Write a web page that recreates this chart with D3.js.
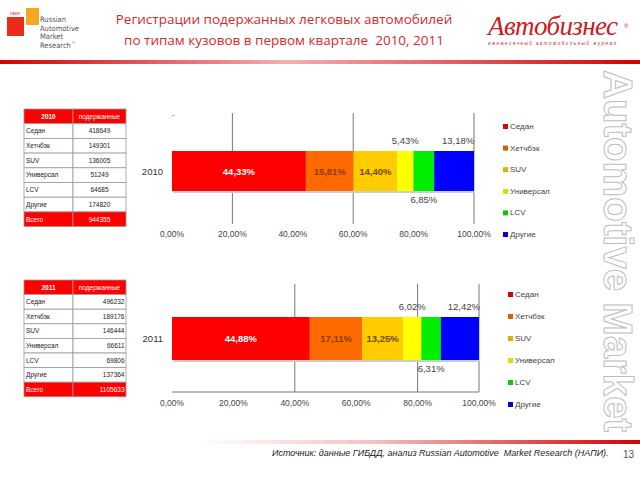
<!DOCTYPE html>
<html>
<head>
<meta charset="utf-8">
<script src="https://cdn.jsdelivr.net/npm/d3@7"></script>
<style>
  body { margin: 0; background: #fff; }
  svg { display: block; font-family: "Liberation Sans", Arial, sans-serif; }
</style>
</head>
<body>
<div id="chart"></div>
<script>
"use strict";

// categories and colours of the body types
var categories = ["Седан", "Хетчбэк", "SUV", "Универсал", "LCV", "Другие"];
var colors = ["#ff0000", "#ff6a00", "#ffcc00", "#ffff00", "#00ee00", "#0000ff"];

// shares in %
var share2010 = [44.33, 15.81, 14.40, 5.43, 6.85, 13.18];
var share2011 = [44.88, 17.11, 13.25, 6.02, 6.31, 12.42];

// units from the small tables
var units2010 = ["418649", "149301", "136005", "51249", "64685", "174820"];
var units2011 = ["496232", "189176", "146444", "66611", "69806", "137364"];
var total2010 = "944355";
var total2011 = "1105633";

var tickValues = [0, 20, 40, 60, 80, 100];
var tickLabels = ["0,00%", "20,00%", "40,00%", "60,00%", "80,00%", "100,00%"];

var w = 640, h = 480;

var svg = d3.select("#chart").append("svg")
  .attr("width", w)
  .attr("height", h);

var defs = svg.append("defs");

//header / footer red rules
var gTop = defs.append("linearGradient").attr("id", "ruleTop");
gTop.append("stop").attr("offset", "0%").attr("stop-color", "#d40000");
gTop.append("stop").attr("offset", "45%").attr("stop-color", "#f2b0b0");
gTop.append("stop").attr("offset", "100%").attr("stop-color", "#d40000");

var gBot = defs.append("linearGradient").attr("id", "ruleBot");
gBot.append("stop").attr("offset", "0%").attr("stop-color", "#ffffff");
gBot.append("stop").attr("offset", "40%").attr("stop-color", "#f4c0c0");
gBot.append("stop").attr("offset", "100%").attr("stop-color", "#d40000");

svg.append("rect").attr("x", 0).attr("y", 60).attr("width", w).attr("height", 4)
  .attr("fill", "url(#ruleTop)");
svg.append("rect").attr("x", 200).attr("y", 440).attr("width", 440).attr("height", 4)
  .attr("fill", "url(#ruleBot)");

//left logo
svg.append("rect").attr("x", 7).attr("y", 17).attr("width", 17).attr("height", 19).attr("fill", "#ee2a1a");
svg.append("rect").attr("x", 26).attr("y", 8).attr("width", 13).attr("height", 17).attr("fill", "#f5a623");
svg.append("text").attr("x", 10).attr("y", 15).attr("font-size", 3.5).attr("fill", "#c33").text("RAMR");
var logoLines = ["Russian", "Automotive", "Market", "Research"];
svg.append("g").selectAll("text").data(logoLines).join("text")
  .attr("x", 40)
  .attr("y", function(d, i) { return 22 + i * 8.5; })
  .attr("font-size", 7.5)
  .attr("fill", "#555")
  .attr("font-family", "'Liberation Sans Narrow', 'DejaVu Sans Condensed', sans-serif")
  .text(function(d) { return d; });
svg.append("text").attr("x", 72).attr("y", 44).attr("font-size", 4).attr("fill", "#555").text("®");

//right logo
svg.append("text")
  .attr("x", 488).attr("y", 35)
  .attr("font-family", "'Liberation Serif', 'DejaVu Serif', serif")
  .attr("font-style", "italic")
  .attr("font-size", 27)
  .attr("fill", "#c8201e")
  .attr("textLength", 130)
  .text("Автобизнес");
svg.append("text").attr("x", 624).attr("y", 28).attr("font-size", 6).attr("fill", "#c8201e").text("®");
svg.append("text")
  .attr("x", 488).attr("y", 45)
  .attr("font-size", 4.5)
  .attr("font-style", "italic")
  .attr("fill", "#c8201e")
  .attr("textLength", 128)
  .text("ежемесячный автомобильный журнал");

//title
svg.append("g").selectAll("text")
  .data(["Регистрации подержанных легковых автомобилей", "по типам кузовов в первом квартале  2010, 2011"])
  .join("text")
  .attr("x", 284)
  .attr("y", function(d, i) { return 24 + i * 21; })
  .attr("text-anchor", "middle")
  .attr("font-family", "'Open Sans', sans-serif")
  .attr("font-size", 13.5)
  .attr("fill", "#d42a2a")
  .style("white-space", "pre")
  .text(function(d) { return d; });

//watermark on the right
svg.append("text")
  .attr("transform", "translate(604,70) rotate(90)")
  .attr("font-size", 41)
  .attr("font-weight", "bold")
  .attr("fill", "#fff")
  .attr("stroke", "#bdbdbd")
  .attr("stroke-width", 1)
  .attr("textLength", 362)
  .attr("lengthAdjust", "spacingAndGlyphs")
  .text("Automotive Market");

//footer
svg.append("text")
  .attr("x", 272).attr("y", 456)
  .attr("font-size", 9)
  .attr("font-style", "italic")
  .attr("fill", "#222")
  .style("white-space", "pre")
  .text("Источник: данные ГИБДД, анализ Russian Automotive  Market Research (НАПИ).");
svg.append("text")
  .attr("x", 634).attr("y", 458)
  .attr("text-anchor", "end")
  .attr("font-size", 10)
  .attr("fill", "#555")
  .text("13");

//small data table
function drawTable(year, units, total, x0, y0, rowH) {
  var g = svg.append("g");
  var c1 = 49, c2 = 53;
  var rows = [[year, "подержанные"]];
  categories.forEach(function(c, i) { rows.push([c, units[i]]); });
  rows.push(["Всего", total]);
  var last = rows.length - 1;

  rows.forEach(function(r, i) {
    var y = y0 + i * rowH;
    var red = i === 0 || i === last;
    g.append("rect").attr("x", x0).attr("y", y).attr("width", c1).attr("height", rowH)
      .attr("fill", red ? "#ff0000" : "#fff").attr("stroke", "#999").attr("stroke-width", 0.8);
    g.append("rect").attr("x", x0 + c1).attr("y", y).attr("width", c2).attr("height", rowH)
      .attr("fill", red ? "#ff0000" : "#fff").attr("stroke", "#999").attr("stroke-width", 0.8);
    g.append("text")
      .attr("x", i === 0 ? x0 + c1 / 2 : x0 + 2)
      .attr("y", y + rowH / 2 + 2.3)
      .attr("text-anchor", i === 0 ? "middle" : "start")
      .attr("font-size", 6.5)
      .attr("font-weight", i === 0 ? "bold" : "normal")
      .attr("fill", red ? "#fff" : "#222")
      .text(r[0]);
    var right = year === "2011" && i > 0;
    g.append("text")
      .attr("x", right ? x0 + c1 + c2 - 1.5 : x0 + c1 + c2 / 2)
      .attr("y", y + rowH / 2 + 2.3)
      .attr("text-anchor", right ? "end" : "middle")
      .attr("font-size", 6.5)
      .attr("fill", red ? "#fff" : "#222")
      .text(r[1]);
  });
}

drawTable("2010", units2010, total2010, 24, 109, 14.7);
drawTable("2011", units2011, total2011, 24, 280, 14.6);

//one stacked 100% bar with its axis and legend
function drawBar(year, shares, o) {
  var g = svg.append("g");
  var x = d3.scaleLinear().domain([0, 100]).range([o.x0, o.x1]);

  g.selectAll(".grid").data(o.grid).join("line")
    .attr("x1", function(d) { return x(d); })
    .attr("x2", function(d) { return x(d); })
    .attr("y1", o.gridTop)
    .attr("y2", o.gridBottom)
    .attr("stroke", "#777")
    .attr("stroke-width", 1);

  if (o.axisLine) {
    g.append("line").attr("x1", o.x0).attr("x2", o.x1).attr("y1", o.gridBottom).attr("y2", o.gridBottom)
      .attr("stroke", "#777");
  }

  g.selectAll(".tick").data(tickValues).join("text")
    .attr("x", function(d) { return x(d); })
    .attr("y", o.tickY)
    .attr("text-anchor", "middle")
    .attr("font-size", 8.5)
    .attr("fill", "#444")
    .text(function(d, i) { return tickLabels[i]; });

  var segs = [];
  var acc = 0;
  shares.forEach(function(s, i) {
    segs.push({ i: i, start: acc, value: s });
    acc += s;
  });

  //soft shadow under the bar
  g.append("rect")
    .attr("x", x(0) + 1).attr("y", o.barY + 2)
    .attr("width", x(acc) - x(0)).attr("height", o.barH)
    .attr("fill", "#ccc");

  g.selectAll(".seg").data(segs).join("rect")
    .attr("x", function(d) { return x(d.start); })
    .attr("y", o.barY)
    .attr("width", function(d) { return x(d.start + d.value) - x(d.start); })
    .attr("height", o.barH)
    .attr("fill", function(d) { return colors[d.i]; });

  var fmt = function(v) { return v.toFixed(2).replace(".", ",") + "%"; };
  var labelPos = ["in", "in", "in", "above", "below", "above"];
  var labelFill = ["#fff", "#8a3c00", "#6e4a00", "#444", "#444", "#444"];

  g.selectAll(".lab").data(segs).join("text")
    .attr("x", function(d) { return x(d.start + d.value / 2) + (d.i === 5 ? 4 : 0); })
    .attr("y", function(d) {
      var p = labelPos[d.i];
      if (p === "above") return o.barY - 7;
      if (p === "below") return o.barY + o.barH + 12;
      return o.barY + o.barH / 2 + 3.5;
    })
    .attr("text-anchor", "middle")
    .attr("font-size", 9.5)
    .attr("font-weight", function(d) { return d.i < 3 ? "bold" : "normal"; })
    .attr("fill", function(d) { return labelFill[d.i]; })
    .text(function(d) { return fmt(d.value); });

  g.append("text")
    .attr("x", o.x0 - 9)
    .attr("y", o.barY + o.barH / 2 + 3.5)
    .attr("text-anchor", "end")
    .attr("font-size", 9.5)
    .attr("fill", "#333")
    .text(year);

  var leg = g.selectAll(".leg").data(categories).join("g")
    .attr("transform", function(d, i) { return "translate(" + o.legX + "," + (o.legY + i * o.legStep) + ")"; });
  leg.append("rect").attr("x", 0).attr("y", -5).attr("width", 5).attr("height", 5)
    .attr("fill", function(d, i) { return d3.color(colors[i]).darker(0.4); });
  leg.append("text").attr("x", 7).attr("y", 0)
    .attr("font-size", 8)
    .attr("fill", "#444")
    .text(function(d) { return d; });

  if (o.dash) {
    g.append("text").attr("x", o.x0).attr("y", o.gridTop + 4).attr("font-size", 8).attr("fill", "#555").text("-");
  }
}

drawBar("2010", share2010, {
  x0: 172, x1: 474, barY: 151, barH: 40, gridTop: 113, gridBottom: 224, tickY: 237,
  grid: [20, 60, 100], axisLine: false, legX: 503, legY: 129, legStep: 21.6, dash: true
});

drawBar("2011", share2011, {
  x0: 172, x1: 479, barY: 317, barH: 43, gridTop: 284, gridBottom: 392, tickY: 406,
  grid: [40, 80, 100], axisLine: true, legX: 508, legY: 297, legStep: 22, dash: false
});
</script>
</body>
</html>
